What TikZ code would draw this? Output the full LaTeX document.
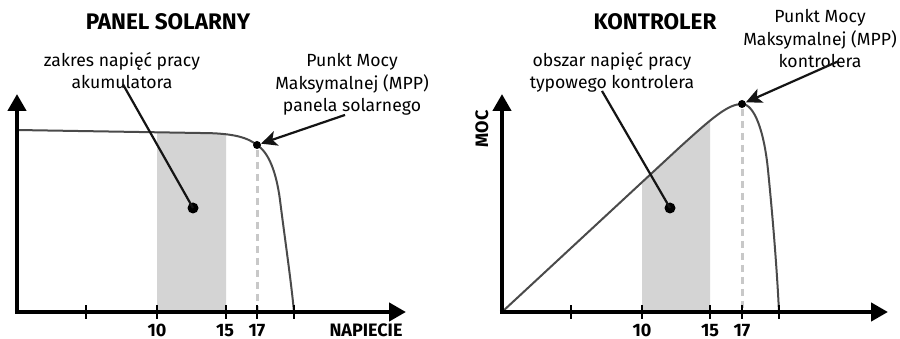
\documentclass[tikz,border=0pt]{standalone}
\usepackage{fontspec}
\setmainfont{Fira Sans}
\usetikzlibrary{arrows.meta}
\definecolor{curvegray}{HTML}{4A4A4A}
\definecolor{shadegray}{HTML}{D4D4D4}
\definecolor{dashgray}{HTML}{C8C8C8}
\definecolor{connblack}{HTML}{141414}
\begin{document}
\begin{tikzpicture}[x=1pt,y=-1pt,
  curve/.style={draw=curvegray,line width=2pt},
  axis/.style={line width=4.5pt,-{Triangle[length=17pt,width=18pt]}},
  tickmark/.style={line width=1.5pt},
  guide/.style={draw=dashgray,line width=3pt,dash pattern=on 7pt off 5pt},
  conn/.style={line width=2.2pt,draw=connblack},
  mpparrow/.style={conn,-{Stealth[length=16pt,width=15pt,inset=4pt]}},
  lbl/.style={font=\fontsize{17.6}{22.5}\selectfont,align=center,anchor=base,inner sep=0pt},
  title/.style={font=\fontsize{22.5}{26}\selectfont\bfseries,anchor=base,inner sep=0pt},
  ticklbl/.style={font=\fontsize{18}{20}\selectfont\bfseries,anchor=base,inner sep=0pt},
  blob/.style={circle,fill=black,inner sep=0pt,minimum size=#1}]
\useasboundingbox (0,0) rectangle (900,339);
\fill[white] (0,0) rectangle (900,339);

% ---------- left panel ----------
\begin{scope}
  \clip (157,0) rectangle (226,312);
  \fill[shadegray] (17,312) -- (17,130) -- (200,133) .. controls (235,133) and (248,138) .. (257,145) -- (257,312) -- cycle;
\end{scope}
\draw[guide] (257,150) -- (257,312);
\draw[curve] (17,130) -- (200,133) .. controls (235,133) and (248,138) .. (257,145)
  .. controls (268,152) and (276,170) .. (280,200) .. controls (285,240) and (291,280) .. (294,312);
\coordinate (oA) at (17,312);
\coordinate (yA) at (17,94);
\coordinate (xA) at (406,312);
\draw[axis] ([yshift=2.25pt]oA) -- (yA);
\draw[axis] ([xshift=-2.25pt]oA) -- (xA);
\foreach \t in {86,157,226,257,294} \draw[tickmark] (\t,305) -- (\t,319);
\node[ticklbl] (tA10) at (157,336) {10};
\node[ticklbl] (tA15) at (225,336) {15};
\node[ticklbl] (tA17) at (257,336) {17};
\node[ticklbl] (napiecie) at (366,336) {NAPIECIE};
\node[title] (titleA) at (168,30) {PANEL SOLARNY};
\node[lbl] (lblA) at (122,89) {zakres napięć pracy\\akumulatora};
\node[lbl] (mppA) at (352,112) {Punkt Mocy\\Maksymalnej (MPP)\\panela solarnego};
\node[blob=8pt] (mppdotA) at (257,145) {};
\node[blob=11pt] (dotA) at (193,208) {};
\draw[conn] ([xshift=1pt,yshift=5pt]lblA.south) -- (dotA.center);
\draw[mpparrow] ([xshift=-7pt,yshift=1pt]mppA.south) -- (mppdotA);

% ---------- right panel ----------
\begin{scope}
  \clip (642,0) rectangle (710,312);
  \fill[shadegray] (502,312) -- (680,147) .. controls (712,118) and (728,104) .. (742,104) -- (742,312) -- cycle;
\end{scope}
\draw[guide] (742,109) -- (742,312);
\draw[curve] (502,312) -- (680,147) .. controls (712,118) and (728,104) .. (742,104)
  .. controls (754,104) and (764,130) .. (768,170) .. controls (773,220) and (777,270) .. (779,312);
\coordinate (oB) at (502,312);
\coordinate (yB) at (502,94);
\coordinate (xB) at (888,312);
\draw[axis] ([yshift=2.25pt]oB) -- (yB);
\draw[axis] ([xshift=-2.25pt]oB) -- (xB);
\foreach \t in {571,642,710,742,779} \draw[tickmark] (\t,305) -- (\t,319);
\node[ticklbl] (tB10) at (642,336) {10};
\node[ticklbl] (tB15) at (710,336) {15};
\node[ticklbl] (tB17) at (742,336) {17};
\node[title] (titleB) at (655,30) {KONTROLER};
\node[font=\fontsize{18}{20}\selectfont\bfseries,rotate=90,inner sep=0pt] (moc) at (482,129) {MOC};
\node[lbl] (lblB) at (612,89) {obszar napięć pracy\\typowego kontrolera};
\node[lbl] (mppB) at (820,68) {Punkt Mocy\\Maksymalnej (MPP)\\kontrolera};
\node[blob=8pt] (mppdotB) at (742,104) {};
\node[blob=11pt] (dotB) at (670,208) {};
\draw[conn] ([xshift=-10pt,yshift=2pt]lblB.south) -- (dotB.center);
\draw[mpparrow] ([xshift=18pt,yshift=7pt]mppB.south) -- (mppdotB);
\end{tikzpicture}
\end{document}
